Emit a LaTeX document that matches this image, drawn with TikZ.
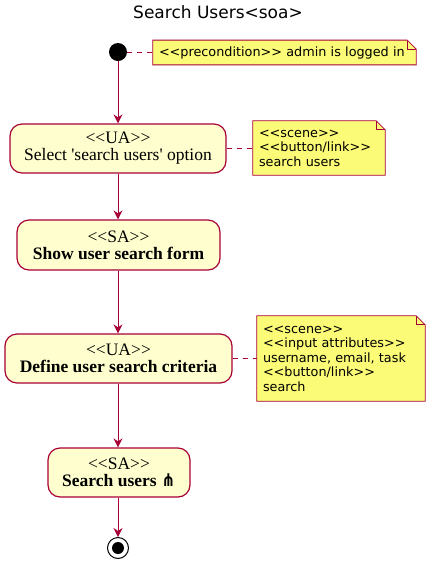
\documentclass[tikz,border=0pt]{standalone}
\usepackage{amssymb}
\usepackage{fontspec}
\setmainfont{Liberation Serif}[Ligatures=TeXOff]
\newfontfamily\notefont{DejaVu Sans}[Ligatures=TeXOff]
\usetikzlibrary{arrows.meta,backgrounds}
\definecolor{umlred}{HTML}{A80036}
\definecolor{actfill}{HTML}{FEFECE}
\definecolor{notefill}{HTML}{FBFB77}
\tikzset{
  act/.style={draw=umlred, fill=actfill, line width=1.2pt, rounded corners=12pt, align=center,
    font=\fontsize{17.5}{17}\selectfont, inner sep=0pt},
  notebox/.style={align=left, font=\notefont\fontsize{12.8}{14.5}\selectfont, inner sep=6pt, anchor=center},
  flow/.style={draw=umlred, line width=1pt, -{Stealth[length=9pt,width=9pt,inset=3pt]}},
  notelink/.style={draw=umlred, line width=1pt, dash pattern=on 5pt off 5pt},
}
\newcommand\drawnote[1]{%
  \begin{scope}[on background layer]
    \draw[umlred, fill=notefill, line width=0.8pt]
      (#1.north west) -- ([xshift=-9pt]#1.north east) -- ([yshift=-9pt]#1.north east)
      -- (#1.south east) -- (#1.south west) -- cycle;
    \draw[umlred, line width=0.8pt] ([xshift=-9pt]#1.north east) -- ([xshift=-9pt,yshift=-9pt]#1.north east)
      -- ([yshift=-9pt]#1.north east);
  \end{scope}}
\begin{document}
\begin{tikzpicture}[x=1pt,y=-1pt]
\useasboundingbox (0,0) rectangle (436,566);
\node[font=\notefont\fontsize{17}{20}\selectfont] (title) at (218,12) {Search Users<soa>};

\node[circle, fill=black, minimum size=18pt, inner sep=0pt] (start) at (118,52) {};

\node[notebox, minimum width=263pt, minimum height=23pt, text width=251pt] (n1) at (284.5,52.5)
  {<<precondition>> admin is logged in};
\drawnote{n1}

\node[act, minimum width=216pt, minimum height=49pt] (ua1) at (118,148.5)
  {<<UA>>\\Select 'search users' option};
\node[notebox, minimum width=132pt, minimum height=54pt, text width=120pt] (n2) at (319,148)
  {<<scene>>\\<<button/link>>\\search users};
\drawnote{n2}

\node[act, minimum width=203pt, minimum height=50pt] (sa1) at (118.5,245)
  {<<SA>>\\\textbf{Show user search form}};

\node[act, minimum width=227pt, minimum height=49pt] (ua2) at (118.5,358.5)
  {<<UA>>\\\textbf{Define user search criteria}};
\node[notebox, minimum width=168pt, minimum height=85pt, text width=156pt] (n3) at (341,358.5)
  {<<scene>>\\<<input attributes>>\\username, email, task\\<<button/link>>\\search};
\drawnote{n3}

\node[act, minimum width=142pt, minimum height=49pt] (sa2) at (119,472.5)
  {<<SA>>\\\textbf{Search users {\notefont\bfseries ⋔}}};

\node[circle, draw=black, line width=1pt, fill=white, minimum size=21pt, inner sep=0pt] (stop) at (118,548) {};
\node[circle, fill=black, minimum size=12pt, inner sep=0pt] (stopin) at (stop.center) {};

\draw[notelink] (start) -- (n1.west |- start);
\draw[notelink] (ua1.east) -- (n2.west |- ua1.east);
\draw[notelink] (ua2.east) -- (n3.west |- ua2.east);

\draw[flow] (start) -- (start |- ua1.north);
\draw[flow] (ua1.south -| start) -- (start |- sa1.north);
\draw[flow] (sa1.south -| start) -- (start |- ua2.north);
\draw[flow] (ua2.south -| start) -- (start |- sa2.north);
\draw[flow] (sa2.south -| start) -- (stop.north);
\end{tikzpicture}
\end{document}
